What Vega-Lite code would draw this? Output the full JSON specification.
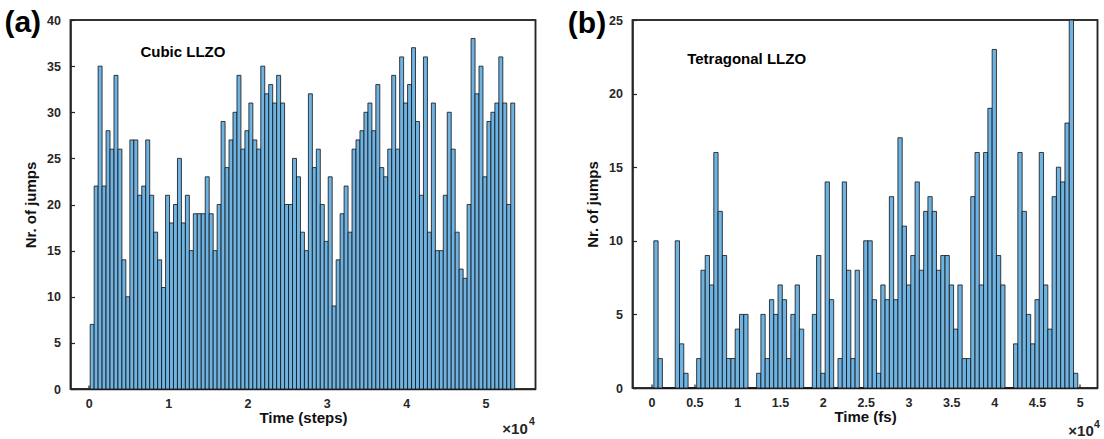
{
  "$schema": "https://vega.github.io/schema/vega-lite/v6.json",
  "background": "white",
  "padding": {"left": 3.5, "top": 7, "right": 0, "bottom": 0},
  "datasets": {
    "cubic": [
      {"t0": 180, "t1": 680, "n": 7}, {"t0": 680, "t1": 1180, "n": 22}, {"t0": 1180, "t1": 1680, "n": 35}, {"t0": 1680, "t1": 2180, "n": 22},
      {"t0": 2180, "t1": 2680, "n": 28}, {"t0": 2680, "t1": 3180, "n": 26}, {"t0": 3180, "t1": 3680, "n": 34}, {"t0": 3680, "t1": 4180, "n": 26},
      {"t0": 4180, "t1": 4680, "n": 14}, {"t0": 4680, "t1": 5180, "n": 10}, {"t0": 5180, "t1": 5680, "n": 27}, {"t0": 5680, "t1": 6180, "n": 27},
      {"t0": 6180, "t1": 6680, "n": 21}, {"t0": 6680, "t1": 7180, "n": 22}, {"t0": 7180, "t1": 7680, "n": 27}, {"t0": 7680, "t1": 8180, "n": 21},
      {"t0": 8180, "t1": 8680, "n": 17}, {"t0": 8680, "t1": 9180, "n": 14}, {"t0": 9180, "t1": 9680, "n": 11}, {"t0": 9680, "t1": 10180, "n": 21},
      {"t0": 10180, "t1": 10680, "n": 18}, {"t0": 10680, "t1": 11180, "n": 20}, {"t0": 11180, "t1": 11680, "n": 25}, {"t0": 11680, "t1": 12180, "n": 18},
      {"t0": 12180, "t1": 12680, "n": 21}, {"t0": 12680, "t1": 13180, "n": 15}, {"t0": 13180, "t1": 13680, "n": 19}, {"t0": 13680, "t1": 14180, "n": 19},
      {"t0": 14180, "t1": 14680, "n": 19}, {"t0": 14680, "t1": 15180, "n": 23}, {"t0": 15180, "t1": 15680, "n": 19}, {"t0": 15680, "t1": 16180, "n": 15},
      {"t0": 16180, "t1": 16680, "n": 20}, {"t0": 16680, "t1": 17180, "n": 29}, {"t0": 17180, "t1": 17680, "n": 24}, {"t0": 17680, "t1": 18180, "n": 27},
      {"t0": 18180, "t1": 18680, "n": 30}, {"t0": 18680, "t1": 19180, "n": 34}, {"t0": 19180, "t1": 19680, "n": 26}, {"t0": 19680, "t1": 20180, "n": 28},
      {"t0": 20180, "t1": 20680, "n": 31}, {"t0": 20680, "t1": 21180, "n": 27}, {"t0": 21180, "t1": 21680, "n": 26}, {"t0": 21680, "t1": 22180, "n": 35},
      {"t0": 22180, "t1": 22680, "n": 32}, {"t0": 22680, "t1": 23180, "n": 33}, {"t0": 23180, "t1": 23680, "n": 31}, {"t0": 23680, "t1": 24180, "n": 34},
      {"t0": 24180, "t1": 24680, "n": 31}, {"t0": 24680, "t1": 25180, "n": 20}, {"t0": 25180, "t1": 25680, "n": 20}, {"t0": 25680, "t1": 26180, "n": 25},
      {"t0": 26180, "t1": 26680, "n": 23}, {"t0": 26680, "t1": 27180, "n": 17}, {"t0": 27180, "t1": 27680, "n": 15}, {"t0": 27680, "t1": 28180, "n": 32},
      {"t0": 28180, "t1": 28680, "n": 24}, {"t0": 28680, "t1": 29180, "n": 26}, {"t0": 29180, "t1": 29680, "n": 20}, {"t0": 29680, "t1": 30180, "n": 16},
      {"t0": 30180, "t1": 30680, "n": 23}, {"t0": 30680, "t1": 31180, "n": 9}, {"t0": 31180, "t1": 31680, "n": 14}, {"t0": 31680, "t1": 32180, "n": 19},
      {"t0": 32180, "t1": 32680, "n": 22}, {"t0": 32680, "t1": 33180, "n": 17}, {"t0": 33180, "t1": 33680, "n": 26}, {"t0": 33680, "t1": 34180, "n": 27},
      {"t0": 34180, "t1": 34680, "n": 28}, {"t0": 34680, "t1": 35180, "n": 30}, {"t0": 35180, "t1": 35680, "n": 31}, {"t0": 35680, "t1": 36180, "n": 28},
      {"t0": 36180, "t1": 36680, "n": 33}, {"t0": 36680, "t1": 37180, "n": 24}, {"t0": 37180, "t1": 37680, "n": 23}, {"t0": 37680, "t1": 38180, "n": 26},
      {"t0": 38180, "t1": 38680, "n": 34}, {"t0": 38680, "t1": 39180, "n": 26}, {"t0": 39180, "t1": 39680, "n": 36}, {"t0": 39680, "t1": 40180, "n": 31},
      {"t0": 40180, "t1": 40680, "n": 33}, {"t0": 40680, "t1": 41180, "n": 37}, {"t0": 41180, "t1": 41680, "n": 29}, {"t0": 41680, "t1": 42180, "n": 21},
      {"t0": 42180, "t1": 42680, "n": 36}, {"t0": 42680, "t1": 43180, "n": 17}, {"t0": 43180, "t1": 43680, "n": 31}, {"t0": 43680, "t1": 44180, "n": 15},
      {"t0": 44180, "t1": 44680, "n": 15}, {"t0": 44680, "t1": 45180, "n": 21}, {"t0": 45180, "t1": 45680, "n": 30}, {"t0": 45680, "t1": 46180, "n": 26},
      {"t0": 46180, "t1": 46680, "n": 17}, {"t0": 46680, "t1": 47180, "n": 13}, {"t0": 47180, "t1": 47680, "n": 12}, {"t0": 47680, "t1": 48180, "n": 20},
      {"t0": 48180, "t1": 48680, "n": 38}, {"t0": 48680, "t1": 49180, "n": 32}, {"t0": 49180, "t1": 49680, "n": 35}, {"t0": 49680, "t1": 50180, "n": 23},
      {"t0": 50180, "t1": 50680, "n": 29}, {"t0": 50680, "t1": 51180, "n": 30}, {"t0": 51180, "t1": 51680, "n": 31}, {"t0": 51680, "t1": 52180, "n": 36},
      {"t0": 52180, "t1": 52680, "n": 31}, {"t0": 52680, "t1": 53180, "n": 20}, {"t0": 53180, "t1": 53680, "n": 31}
    ],
    "tetra": [
      {"t0": 270, "t1": 770, "n": 10}, {"t0": 770, "t1": 1270, "n": 2}, {"t0": 1270, "t1": 1770, "n": 0}, {"t0": 1770, "t1": 2270, "n": 0},
      {"t0": 2270, "t1": 2770, "n": 0}, {"t0": 2770, "t1": 3270, "n": 10}, {"t0": 3270, "t1": 3770, "n": 3}, {"t0": 3770, "t1": 4270, "n": 1},
      {"t0": 4270, "t1": 4770, "n": 0}, {"t0": 4770, "t1": 5270, "n": 0}, {"t0": 5270, "t1": 5770, "n": 2}, {"t0": 5770, "t1": 6270, "n": 8},
      {"t0": 6270, "t1": 6770, "n": 9}, {"t0": 6770, "t1": 7270, "n": 7}, {"t0": 7270, "t1": 7770, "n": 16}, {"t0": 7770, "t1": 8270, "n": 12},
      {"t0": 8270, "t1": 8770, "n": 9}, {"t0": 8770, "t1": 9270, "n": 2}, {"t0": 9270, "t1": 9770, "n": 2}, {"t0": 9770, "t1": 10270, "n": 4},
      {"t0": 10270, "t1": 10770, "n": 5}, {"t0": 10770, "t1": 11270, "n": 5}, {"t0": 11270, "t1": 11770, "n": 0}, {"t0": 11770, "t1": 12270, "n": 0},
      {"t0": 12270, "t1": 12770, "n": 1}, {"t0": 12770, "t1": 13270, "n": 5}, {"t0": 13270, "t1": 13770, "n": 2}, {"t0": 13770, "t1": 14270, "n": 6},
      {"t0": 14270, "t1": 14770, "n": 5}, {"t0": 14770, "t1": 15270, "n": 7}, {"t0": 15270, "t1": 15770, "n": 6}, {"t0": 15770, "t1": 16270, "n": 2},
      {"t0": 16270, "t1": 16770, "n": 5}, {"t0": 16770, "t1": 17270, "n": 7}, {"t0": 17270, "t1": 17770, "n": 4}, {"t0": 17770, "t1": 18270, "n": 0},
      {"t0": 18270, "t1": 18770, "n": 0}, {"t0": 18770, "t1": 19270, "n": 5}, {"t0": 19270, "t1": 19770, "n": 9}, {"t0": 19770, "t1": 20270, "n": 1},
      {"t0": 20270, "t1": 20770, "n": 14}, {"t0": 20770, "t1": 21270, "n": 6}, {"t0": 21270, "t1": 21770, "n": 0}, {"t0": 21770, "t1": 22270, "n": 2},
      {"t0": 22270, "t1": 22770, "n": 14}, {"t0": 22770, "t1": 23270, "n": 8}, {"t0": 23270, "t1": 23770, "n": 2}, {"t0": 23770, "t1": 24270, "n": 8},
      {"t0": 24270, "t1": 24770, "n": 0}, {"t0": 24770, "t1": 25270, "n": 10}, {"t0": 25270, "t1": 25770, "n": 10}, {"t0": 25770, "t1": 26270, "n": 6},
      {"t0": 26270, "t1": 26770, "n": 1}, {"t0": 26770, "t1": 27270, "n": 7}, {"t0": 27270, "t1": 27770, "n": 6}, {"t0": 27770, "t1": 28270, "n": 13},
      {"t0": 28270, "t1": 28770, "n": 6}, {"t0": 28770, "t1": 29270, "n": 17}, {"t0": 29270, "t1": 29770, "n": 11}, {"t0": 29770, "t1": 30270, "n": 7},
      {"t0": 30270, "t1": 30770, "n": 9}, {"t0": 30770, "t1": 31270, "n": 14}, {"t0": 31270, "t1": 31770, "n": 8}, {"t0": 31770, "t1": 32270, "n": 12},
      {"t0": 32270, "t1": 32770, "n": 13}, {"t0": 32770, "t1": 33270, "n": 12}, {"t0": 33270, "t1": 33770, "n": 8}, {"t0": 33770, "t1": 34270, "n": 9},
      {"t0": 34270, "t1": 34770, "n": 9}, {"t0": 34770, "t1": 35270, "n": 7}, {"t0": 35270, "t1": 35770, "n": 4}, {"t0": 35770, "t1": 36270, "n": 7},
      {"t0": 36270, "t1": 36770, "n": 2}, {"t0": 36770, "t1": 37270, "n": 2}, {"t0": 37270, "t1": 37770, "n": 13}, {"t0": 37770, "t1": 38270, "n": 16},
      {"t0": 38270, "t1": 38770, "n": 7}, {"t0": 38770, "t1": 39270, "n": 16}, {"t0": 39270, "t1": 39770, "n": 19}, {"t0": 39770, "t1": 40270, "n": 23},
      {"t0": 40270, "t1": 40770, "n": 9}, {"t0": 40770, "t1": 41270, "n": 7}, {"t0": 41270, "t1": 41770, "n": 0}, {"t0": 41770, "t1": 42270, "n": 0},
      {"t0": 42270, "t1": 42770, "n": 3}, {"t0": 42770, "t1": 43270, "n": 16}, {"t0": 43270, "t1": 43770, "n": 12}, {"t0": 43770, "t1": 44270, "n": 5},
      {"t0": 44270, "t1": 44770, "n": 3}, {"t0": 44770, "t1": 45270, "n": 6}, {"t0": 45270, "t1": 45770, "n": 16}, {"t0": 45770, "t1": 46270, "n": 7},
      {"t0": 46270, "t1": 46770, "n": 4}, {"t0": 46770, "t1": 47270, "n": 13}, {"t0": 47270, "t1": 47770, "n": 15}, {"t0": 47770, "t1": 48270, "n": 14},
      {"t0": 48270, "t1": 48770, "n": 18}, {"t0": 48770, "t1": 49270, "n": 25}, {"t0": 49270, "t1": 49770, "n": 1}
    ]
  },
  "config": {
    "view": {"stroke": "#262626", "strokeWidth": 1.5},
    "font": "Liberation Sans",
    "concat": {"spacing": 29},
    "axis": {
      "grid": false,
      "domainColor": "#262626",
      "tickColor": "#262626",
      "labelColor": "#262626",
      "labelFont": "Liberation Sans",
      "labelFontWeight": "bold",
      "labelFontSize": 12.5,
      "titleFont": "Liberation Sans",
      "titleFontSize": 15,
      "titleFontWeight": "bold",
      "titleColor": "#111111",
      "tickSize": -4,
      "domainWidth": 1.5,
      "tickWidth": 1.2
    }
  },
  "hconcat": [
    {
      "width": 465,
      "height": 369,
      "layer": [
        {
          "data": {"values": [{}]},
          "mark": {"type": "rect", "fill": "white", "fillOpacity": 0, "stroke": "#262626", "strokeWidth": 1.5},
          "encoding": {
            "x": {"datum": -2300, "type": "quantitative"},
            "x2": {"datum": 56300},
            "y": {"datum": 0, "type": "quantitative"},
            "y2": {"datum": 40}
          }
        },
        {
          "data": {"name": "cubic"},
          "mark": {"type": "rect", "color": "#6EB3E2", "stroke": "#111111", "strokeWidth": 0.8},
          "encoding": {
            "x": {"field": "t0", "type": "quantitative",
              "scale": {"domain": [-2300, 56300], "nice": false, "zero": false},
              "axis": {"orient": "bottom", "values": [0, 10000, 20000, 30000, 40000, 50000], "labelExpr": "datum.value / 10000", "title": "Time (steps)", "labelPadding": 12, "titlePadding": 1}},
            "x2": {"field": "t1"},
            "y": {"field": "n", "type": "quantitative",
              "scale": {"domain": [0, 40], "nice": false},
              "axis": {"orient": "left", "values": [0, 5, 10, 15, 20, 25, 30, 35, 40], "title": "Nr. of jumps", "labelPadding": 14, "titlePadding": 8}},
            "y2": {"datum": 0}
          }
        },
        {
          "data": {"values": [{"label": "(a)"}]},
          "mark": {"type": "text", "align": "left", "baseline": "alphabetic", "fontSize": 30, "fontWeight": "bold", "color": "#000000"},
          "encoding": {
            "x": {"datum": -10625, "type": "quantitative"},
            "y": {"datum": 38.7, "type": "quantitative"},
            "text": {"field": "label"}
          }
        },
        {
          "data": {"values": [{"label": "Cubic LLZO"}]},
          "mark": {"type": "text", "align": "left", "baseline": "alphabetic", "fontSize": 15, "fontWeight": "bold", "color": "#000000"},
          "encoding": {
            "x": {"datum": 6516, "type": "quantitative"},
            "y": {"datum": 36, "type": "quantitative"},
            "text": {"field": "label"}
          }
        },
        {
          "data": {"values": [{"label": "×10"}]},
          "mark": {"type": "text", "align": "right", "baseline": "alphabetic", "fontSize": 15, "fontWeight": "bold", "color": "#262626"},
          "encoding": {
            "x": {"datum": 55330, "type": "quantitative"},
            "y": {"datum": -4.88, "type": "quantitative"},
            "text": {"field": "label"}
          }
        },
        {
          "data": {"values": [{"label": "4"}]},
          "mark": {"type": "text", "align": "left", "baseline": "alphabetic", "fontSize": 10.5, "fontWeight": "bold", "color": "#262626"},
          "encoding": {
            "x": {"datum": 55480, "type": "quantitative"},
            "y": {"datum": -3.9, "type": "quantitative"},
            "text": {"field": "label"}
          }
        }
      ]
    },
    {
      "width": 465,
      "height": 368,
      "layer": [
        {
          "data": {"values": [{}]},
          "mark": {"type": "rect", "fill": "white", "fillOpacity": 0, "stroke": "#262626", "strokeWidth": 1.5},
          "encoding": {
            "x": {"datum": -2220, "type": "quantitative"},
            "x2": {"datum": 52070},
            "y": {"datum": 0, "type": "quantitative"},
            "y2": {"datum": 25}
          }
        },
        {
          "data": {"name": "tetra"},
          "mark": {"type": "rect", "color": "#6EB3E2", "stroke": "#111111", "strokeWidth": 0.8},
          "encoding": {
            "x": {"field": "t0", "type": "quantitative",
              "scale": {"domain": [-2220, 52070], "nice": false, "zero": false},
              "axis": {"orient": "bottom", "values": [0, 5000, 10000, 15000, 20000, 25000, 30000, 35000, 40000, 45000, 50000], "labelExpr": "datum.value / 10000", "title": "Time (fs)", "labelPadding": 12, "titlePadding": 1}},
            "x2": {"field": "t1"},
            "y": {"field": "n", "type": "quantitative",
              "scale": {"domain": [0, 25], "nice": false},
              "axis": {"orient": "left", "values": [0, 5, 10, 15, 20, 25], "title": "Nr. of jumps", "labelPadding": 14, "titlePadding": 8}},
            "y2": {"datum": 0}
          }
        },
        {
          "data": {"values": [{"label": "(b)"}]},
          "mark": {"type": "text", "align": "left", "baseline": "alphabetic", "fontSize": 30, "fontWeight": "bold", "color": "#000000"},
          "encoding": {
            "x": {"datum": -9771, "type": "quantitative"},
            "y": {"datum": 24.12, "type": "quantitative"},
            "text": {"field": "label"}
          }
        },
        {
          "data": {"values": [{"label": "Tetragonal LLZO"}]},
          "mark": {"type": "text", "align": "left", "baseline": "alphabetic", "fontSize": 15, "fontWeight": "bold", "color": "#000000"},
          "encoding": {
            "x": {"datum": 4168, "type": "quantitative"},
            "y": {"datum": 22, "type": "quantitative"},
            "text": {"field": "label"}
          }
        },
        {
          "data": {"values": [{"label": "×10"}]},
          "mark": {"type": "text", "align": "right", "baseline": "alphabetic", "fontSize": 15, "fontWeight": "bold", "color": "#262626"},
          "encoding": {
            "x": {"datum": 51635, "type": "quantitative"},
            "y": {"datum": -3.26, "type": "quantitative"},
            "text": {"field": "label"}
          }
        },
        {
          "data": {"values": [{"label": "4"}]},
          "mark": {"type": "text", "align": "left", "baseline": "alphabetic", "fontSize": 10.5, "fontWeight": "bold", "color": "#262626"},
          "encoding": {
            "x": {"datum": 51660, "type": "quantitative"},
            "y": {"datum": -2.7, "type": "quantitative"},
            "text": {"field": "label"}
          }
        }
      ]
    }
  ]
}
